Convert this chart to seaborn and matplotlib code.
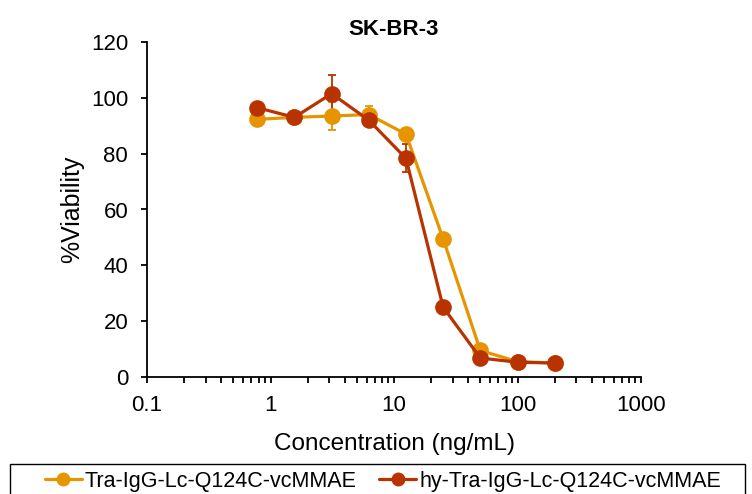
import numpy as np
import pandas as pd
import matplotlib.pyplot as plt
import matplotlib.patches as mpatches
import seaborn as sns

sns.set_style("ticks")
plt.rcParams["font.family"] = ["Liberation Sans", "DejaVu Sans"]
plt.rcParams["text.color"] = "black"
plt.rcParams["axes.labelcolor"] = "black"

conc = [0.78, 1.56, 3.125, 6.25, 12.5, 25, 50, 100, 200]
tra = [92.3, 93.0, 93.5, 94.0, 87.0, 49.5, 9.5, 5.5, 5.0]
tra_err = [1.0, 1.0, 5.0, 3.0, 1.5, 1.5, 1.0, 0.5, 0.5]
hy_tra = [96.5, 93.0, 101.5, 92.0, 78.3, 25.0, 6.8, 5.3, 5.0]
hy_tra_err = [1.0, 1.0, 6.7, 1.5, 5.0, 1.0, 1.0, 0.5, 0.5]
names = ["Tra-IgG-Lc-Q124C-vcMMAE", "hy-Tra-IgG-Lc-Q124C-vcMMAE"]
colors = ["#E69500", "#B83300"]

df = pd.DataFrame({
    "conc": conc * 2,
    "viability": tra + hy_tra,
    "err": tra_err + hy_tra_err,
    "sample": [names[0]] * len(conc) + [names[1]] * len(conc),
})

fig = plt.figure(figsize=(7.52, 4.94), dpi=100)
ax = fig.add_axes([147 / 752, 1 - 377 / 494, (641 - 147) / 752, (377 - 42) / 494])

for name, col in zip(names, colors):
    d = df[df["sample"] == name]
    ax.errorbar(d["conc"], d["viability"], yerr=d["err"], fmt="none",
                ecolor=col, elinewidth=1.3, capsize=3, capthick=1.3)

sns.lineplot(data=df, x="conc", y="viability", hue="sample", palette=colors,
             marker="o", markersize=12, markeredgewidth=0, linewidth=2.3,
             ax=ax, legend=False)

ax.set_xscale("log")
ax.set_xlim(0.1, 1000)
ax.set_ylim(0, 120)
ax.set_yticks(range(0, 121, 20))
ax.set_xticks([0.1, 1, 10, 100, 1000])
ax.set_xticklabels(["0.1", "1", "10", "100", "1000"])
sns.despine(ax=ax)
for s in ["left", "bottom"]:
    ax.spines[s].set_linewidth(1.3)
    ax.spines[s].set_color("black")
ax.tick_params(axis="y", which="major", labelsize=16, length=4.5, width=1.3,
               colors="black", pad=9)
ax.tick_params(axis="x", which="major", labelsize=16, length=4, width=1.3,
               colors="black", pad=9)
ax.tick_params(axis="x", which="minor", length=4, width=1.3, colors="black")
ax.tick_params(axis="y", which="minor", left=False)

ax.set_title("SK-BR-3", fontsize=16, fontweight="bold", pad=5)
ax.set_xlabel("Concentration (ng/mL)", fontsize=17.5, labelpad=12)
ax.set_ylabel("%Viability", fontsize=18, labelpad=5)

handles = [plt.Line2D([], [], color=c, marker="o", markersize=9, linewidth=2.3)
           for c in colors]
fig.legend(handles, names, loc="center", bbox_to_anchor=(383 / 752, 1 - 481 / 494),
           ncol=2, frameon=False, fontsize=15.5, handlelength=1.7,
           handletextpad=0.15, columnspacing=1.05)
fig.patches.append(mpatches.Rectangle((10 / 752, -0.1), 735 / 752, 0.1 + 30 / 494,
                                      transform=fig.transFigure, fill=False,
                                      edgecolor="black", linewidth=1.0))

fig.savefig("out.png", dpi=100)
